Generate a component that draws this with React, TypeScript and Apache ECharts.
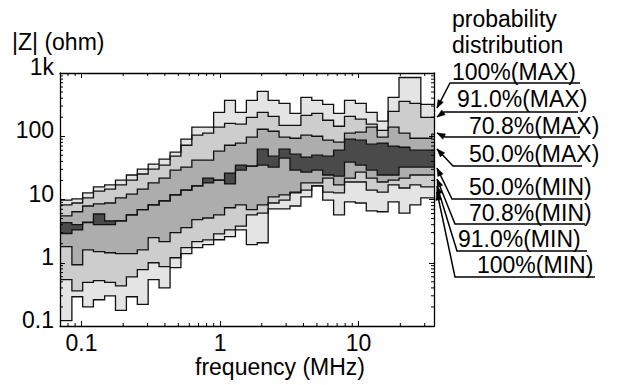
import React, { useEffect, useRef } from "react";
import * as echarts from "echarts";

// Step edges of the frequency bins (MHz)
const FREQ_EDGES_MHZ = [
  0.07, 0.0853, 0.102, 0.122, 0.147, 0.176, 0.211, 0.253, 0.303, 0.363, 0.436, 0.522,
  0.626, 0.75, 0.899, 1.078, 1.292, 1.549, 1.857, 2.225, 2.667, 3.197, 3.833, 4.593,
  5.506, 6.6, 7.91, 9.48, 11.36, 13.62, 16.33, 19.57, 23.46, 28.12, 33.7, 35,
];

// |Z| (ohm) per frequency bin for each probability-distribution boundary
const MAX_100 = [9.8, 10.2, 12.7, 15.8, 17, 20.3, 24.4, 30.3, 36.3, 43.5, 56, 90, 139, 139, 239, 369, 239, 369, 511, 369, 330, 230, 411, 369, 320, 230, 369, 330, 239, 173, 411, 849, 849, 320, 320];
const MAX_91 = [8.2, 8.8, 10.6, 13.6, 14.6, 17, 20.3, 25.3, 30.3, 35, 48.5, 72, 104, 112, 139, 160, 155, 199, 239, 206, 149, 149, 214, 230, 179, 144, 206, 186, 155, 124, 248, 356, 330, 199, 199];
const MAX_708 = [5.5, 6.4, 7.9, 8.5, 8.8, 10.6, 12.2, 14.6, 18.3, 21.8, 29.2, 32.6, 42, 42, 58, 72, 78, 97, 129, 120, 97, 93, 104, 100, 87, 81, 112, 116, 139, 97, 139, 112, 93, 93, 108];
const MAX_50 = [4.3, 4, 4.4, 5.9, 4.6, 4.6, 5.7, 6.9, 8.2, 9.5, 11.8, 14.1, 16.4, 21.8, 20.3, 26.2, 35, 33.8, 62.5, 48.5, 62.5, 52, 46.8, 50.3, 48.5, 60.3, 90, 86.6, 75, 78, 70, 67, 60.3, 60.3, 60.3];
const MIN_50 = [2.9, 3.3, 4.3, 4, 4, 4.6, 5.7, 6.9, 8.2, 9.5, 11.8, 14.1, 16.4, 18.3, 20.3, 17.6, 29.2, 33.8, 35, 32.6, 45, 29.2, 27.1, 29.2, 24.4, 23.5, 39, 35, 29.2, 24.4, 24.4, 32.6, 32.6, 32.6, 32.6];
const MIN_708 = [1.8, 0.93, 1.6, 1.5, 1.44, 1.39, 1.39, 1.6, 2.5, 2.15, 3, 3.6, 4.8, 5.1, 5.7, 7.4, 8.2, 6.9, 8.2, 11, 11.8, 13.1, 18.3, 18.3, 21.8, 17, 21.8, 27.1, 21.8, 18.9, 20.3, 21.8, 24.4, 24.4, 24.4];
const MIN_91 = [0.54, 0.36, 0.49, 0.52, 0.49, 0.43, 0.6, 0.78, 1, 0.87, 1.2, 1.73, 2.15, 2.3, 2.87, 3.3, 3.8, 5.7, 6.1, 8.8, 9.8, 12.7, 14.1, 16.4, 13.1, 12.7, 18.9, 18.9, 14.1, 13.1, 17, 15.2, 17, 15.8, 15.8];
const MIN_100 = [0.122, 0.29, 0.2, 0.26, 0.3, 0.176, 0.29, 0.22, 0.54, 0.4, 0.84, 1.39, 1.73, 1.93, 2.31, 2.58, 3.32, 1.93, 2.07, 7.1, 7.1, 7.9, 11, 16.4, 9.8, 5.7, 9.2, 8.8, 6.6, 6.4, 9.2, 6.1, 8.2, 10.6, 10.6];

const LEVEL_LABELS = ["100%(MAX)", "91.0%(MAX)", "70.8%(MAX)", "50.0%(MAX)", "50.0%(MIN)", "70.8%(MIN)", "91.0%(MIN)", "100%(MIN)"];

const X_MIN = 0.07;
const X_MAX = 35;
const Y_MIN = 0.1;
const Y_MAX = 1000;
const X_MAJOR = [0.1, 1, 10];
const X_MAJOR_LABELS = ["0.1", "1", "10"];
const X_MINOR = [0.08, 0.09, 0.2, 0.3, 0.4, 0.5, 0.6, 0.7, 0.8, 0.9, 2, 3, 4, 5, 6, 7, 8, 9, 20, 30];
const Y_MAJOR = [0.1, 1, 10, 100, 1000];
const Y_MAJOR_LABELS = ["0.1", "1", "10", "100", "1k"];
const Y_MINOR = [0.2, 0.3, 0.4, 0.5, 0.6, 0.7, 0.8, 0.9, 2, 3, 4, 5, 6, 7, 8, 9, 20, 30, 40, 50, 60, 70, 80, 90, 200, 300, 400, 500, 600, 700, 800, 900];

const BOUNDARIES = [MAX_100, MAX_91, MAX_708, MAX_50, MIN_50, MIN_708, MIN_91, MIN_100];
const BAND_FILLS = ["#e4e4e4", "#cdcdcd", "#adadad", "#4a4a4a", "#adadad", "#cdcdcd", "#e4e4e4"];

const FONT = '"Liberation Sans", Arial, Helvetica, sans-serif';
const FS = 23;

// annotation layout (pixels)
const ANNOT_LAYOUT = [
  { tx: 452, ty: 72, ulY: 83, ulL: 450, ulR: 580, tipX: 437, tipY: 108 },
  { tx: 457, ty: 99, ulY: 112, ulL: 444, ulR: 578, tipX: 437, tipY: 117 },
  { tx: 469, ty: 126, ulY: 137, ulL: 445, ulR: 580, tipX: 437, tipY: 133 },
  { tx: 469, ty: 154, ulY: 166, ulL: 453, ulR: 582, tipX: 437, tipY: 149 },
  { tx: 469, ty: 187, ulY: 199, ulL: 452, ulR: 582, tipX: 437, tipY: 168 },
  { tx: 469, ty: 213, ulY: 224, ulL: 455, ulR: 585, tipX: 437, tipY: 179 },
  { tx: 458, ty: 239, ulY: 251, ulL: 457, ulR: 587, tipX: 437, tipY: 186 },
  { tx: 477, ty: 265, ulY: 277, ulL: 455, ulR: 595, tipX: 437, tipY: 192 },
];

function matchLabel(v: number, ticks: number[], labels: string[]) {
  for (let i = 0; i < ticks.length; i++) {
    if (Math.abs(Math.log10(v) - Math.log10(ticks[i])) < 1e-6) return labels[i];
  }
  return "";
}

function textEl(text: string, x: number, y: number, align = "left") {
  return {
    type: "text",
    silent: true,
    style: {
      text,
      x,
      y,
      font: `${FS}px ${FONT}`,
      fill: "#000",
      align,
      textAlign: align,
      verticalAlign: "middle",
      textVerticalAlign: "middle",
    },
  };
}

function buildAnnotations() {
  const els: any[] = [];
  els.push(textEl("|Z| (ohm)", 12, 42));
  els.push(textEl("frequency (MHz)", 280, 367, "center"));
  els.push(textEl("probability", 452, 19));
  els.push(textEl("distribution", 452, 45));
  LEVEL_LABELS.forEach((label, i) => {
    const a = ANNOT_LAYOUT[i];
    els.push(textEl(label, a.tx, a.ty));
    els.push({
      type: "polyline",
      silent: true,
      shape: { points: [[a.ulR, a.ulY], [a.ulL, a.ulY], [a.tipX, a.tipY]] },
      style: { stroke: "#000", lineWidth: 1.5, fill: null },
    });
    const dx = a.tipX - a.ulL;
    const dy = a.tipY - a.ulY;
    const len = Math.sqrt(dx * dx + dy * dy) || 1;
    const ux = dx / len;
    const uy = dy / len;
    const bx = a.tipX - ux * 8;
    const by = a.tipY - uy * 8;
    const px = -uy * 3;
    const py = ux * 3;
    els.push({
      type: "polygon",
      silent: true,
      shape: { points: [[a.tipX, a.tipY], [bx + px, by + py], [bx - px, by - py]] },
      style: { fill: "#000", stroke: "#000", lineWidth: 0.5 },
    });
  });
  return els;
}

function stepPoints(api: any, vals: number[]) {
  const pts: number[][] = [];
  for (let k = 0; k < vals.length; k++) {
    pts.push(api.coord([FREQ_EDGES_MHZ[k], vals[k]]));
    pts.push(api.coord([FREQ_EDGES_MHZ[k + 1], vals[k]]));
  }
  return pts;
}

export default function App() {
  const ref = useRef<HTMLDivElement>(null);
  useEffect(() => {
    if (!ref.current) return;
    const chart = echarts.init(ref.current, null, { renderer: "svg" });
    const axisCommon = {
      type: "log" as const,
      logBase: 10,
      axisLine: { show: true, lineStyle: { color: "#000", width: 1.3 } },
      axisTick: { show: true, inside: true, length: 5, lineStyle: { color: "#000", width: 1 } },
      splitLine: { show: false },
      z: 10,
    };
    const option: any = {
      animation: false,
      grid: { left: 60, top: 73, width: 374, height: 253, containLabel: false },
      xAxis: [
        {
          ...axisCommon,
          position: "bottom",
          min: X_MIN,
          max: X_MAX,
          axisLabel: {
            show: true,
            margin: 5,
            fontSize: FS,
            fontFamily: FONT,
            color: "#000",
            showMinLabel: false,
            showMaxLabel: false,
            formatter: (v: number) => matchLabel(v, X_MAJOR, X_MAJOR_LABELS),
          },
        },
        {
          ...axisCommon,
          position: "top",
          min: X_MIN,
          max: X_MAX,
          axisLabel: { show: false },
        },
      ],
      yAxis: [
        {
          ...axisCommon,
          position: "left",
          min: Y_MIN,
          max: Y_MAX,
          axisLabel: {
            show: true,
            margin: 6,
            fontSize: FS,
            fontFamily: FONT,
            color: "#000",
            verticalAlign: "bottom",
            lineHeight: 12,
            formatter: (v: number) => matchLabel(v, Y_MAJOR, Y_MAJOR_LABELS),
          },
        },
        {
          ...axisCommon,
          position: "right",
          min: Y_MIN,
          max: Y_MAX,
          axisLabel: { show: false },
        },
      ],
      series: [
        {
          type: "custom",
          coordinateSystem: "cartesian2d",
          silent: true,
          z: 1,
          data: BAND_FILLS.map((_, i) => [1, 1, i]),
          renderItem: (params: any, api: any) => {
            const i = params.dataIndex;
            const upper = stepPoints(api, BOUNDARIES[i]);
            const lower = stepPoints(api, BOUNDARIES[i + 1]).reverse();
            return {
              type: "polygon",
              shape: { points: upper.concat(lower) },
              style: { fill: BAND_FILLS[i], stroke: null },
            };
          },
        },
        {
          type: "custom",
          coordinateSystem: "cartesian2d",
          silent: true,
          z: 2,
          data: BOUNDARIES.map((_, i) => [1, 1, i]),
          renderItem: (params: any, api: any) => {
            const i = params.dataIndex;
            return {
              type: "polyline",
              shape: { points: stepPoints(api, BOUNDARIES[i]) },
              style: { stroke: "#111", lineWidth: 1.3, fill: null },
            };
          },
        },
        {
          type: "custom",
          coordinateSystem: "cartesian2d",
          silent: true,
          z: 3,
          data: [[1, 1]],
          renderItem: (_params: any, api: any) => {
            const [x0, yb] = api.coord([X_MIN, Y_MIN]);
            const [x1, yt] = api.coord([X_MAX, Y_MAX]);
            const children: any[] = [];
            const ln = (a: number, b: number, c: number, d: number) => ({
              type: "line",
              shape: { x1: a, y1: b, x2: c, y2: d },
              style: { stroke: "#000", lineWidth: 1 },
            });
            X_MINOR.forEach((v) => {
              const x = api.coord([v, 1])[0];
              children.push(ln(x, yb, x, yb - 3));
              children.push(ln(x, yt, x, yt + 3));
            });
            Y_MINOR.forEach((v) => {
              const y = api.coord([1, v])[1];
              children.push(ln(x0, y, x0 + 3, y));
              children.push(ln(x1, y, x1 - 3, y));
            });
            return { type: "group", children };
          },
        },
      ],
      graphic: buildAnnotations(),
    };
    chart.setOption(option);
    return () => chart.dispose();
  }, []);
  return <div ref={ref} style={{ width: 618, height: 385, marginLeft: -8, marginTop: -8 }} />;
}
